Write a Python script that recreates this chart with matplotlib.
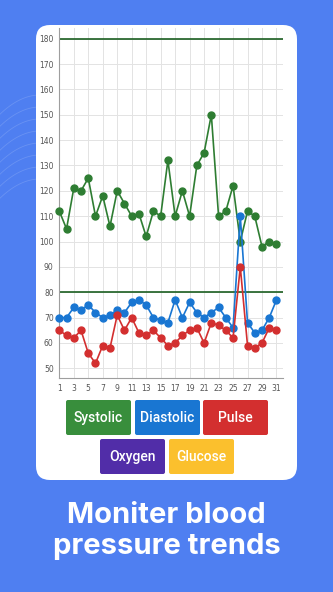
import numpy as np
import matplotlib
matplotlib.use('Agg')
import matplotlib.pyplot as plt
from matplotlib.patches import FancyBboxPatch

days = list(range(1, 32))
systolic = [112, 105, 121, 120, 125, 110, 118, 106, 120, 115, 110, 111, 102, 112, 110, 132,
            110, 120, 110, 130, 135, 150, 110, 112, 122, 100, 112, 110, 98, 100, 99]
diastolic = [70, 70, 74, 73, 75, 72, 70, 71, 73, 72, 76, 77, 75, 70, 69, 68,
             77, 70, 76, 72, 70, 72, 74, 70, 66, 110, 68, 64, 65, 70, 77]
pulse = [65, 63, 62, 65, 56, 52, 59, 58, 71, 65, 70, 64, 63, 65, 62, 59,
         60, 63, 65, 66, 60, 68, 67, 65, 62, 90, 59, 58, 60, 66, 65]
limits = [180, 80]
buttons = ['Systolic', 'Diastolic', 'Pulse', 'Oxygen', 'Glucose']
button_colors = ['#388e3c', '#1976d2', '#d32f2f', '#512da8', '#fbc02d']
title = 'Moniter blood\npressure trends'

W, H = 333, 592
fig = plt.figure(figsize=(W / 100, H / 100), dpi=100)
fig.patch.set_facecolor('#4f7ff1')

# faint decorative curves in the background
bg = fig.add_axes([0, 0, 1, 1])
bg.set_xlim(0, W)
bg.set_ylim(H, 0)
bg.axis('off')
t = np.linspace(0, 40, 50)
for k in range(8):
    bg.plot(t, 95 + k * 12 + 0.012 * (t - 40) ** 2, color='white', alpha=0.15, lw=0.6)

# white card
bg.add_patch(FancyBboxPatch((36, 25), 261, 455, boxstyle='round,pad=0,rounding_size=14',
                            facecolor='white', edgecolor='none'))

# buttons
btn_pos = [(66, 400), (135, 400), (203, 400), (100, 439), (169, 439)]
for (bx, by), lab, col in zip(btn_pos, buttons, button_colors):
    bg.add_patch(FancyBboxPatch((bx, by), 65, 35, boxstyle='round,pad=0,rounding_size=2',
                                facecolor=col, edgecolor='none'))
    bg.text(bx + 32.5, by + 18, lab, color='white', ha='center', va='center',
            fontsize=10, family='Roboto', weight='medium')

bg.text(166.5, 531, title, color='white', ha='center', va='center', fontsize=21,
        family='Inter', weight='bold', linespacing=1.2)

# chart
ax = fig.add_axes([59.3 / W, 1 - 378 / H, (283 - 59.3) / W, (378 - 28) / H])
ax.set_facecolor('white')
ax.plot(days, systolic, color='#2e7d32', marker='o', ms=5, lw=1.2, zorder=3, clip_on=False)
ax.plot(days, diastolic, color='#1976d2', marker='o', ms=5, lw=1.2, zorder=3, clip_on=False)
ax.plot(days, pulse, color='#d32f2f', marker='o', ms=5, lw=1.2, zorder=3, clip_on=False)
for v in limits:
    ax.axhline(v, color='#1b5e20', lw=1.2, zorder=2)

ax.set_xlim(1, 31.9)
ax.set_ylim(46.2, 184.2)
ax.set_xticks(range(1, 32, 2))
ax.set_yticks(range(50, 181, 10))
ax.grid(True, color='#e3e3e3', lw=0.7)
ax.set_axisbelow(True)
ax.tick_params(labelsize=5.5, colors='#555555', length=0, pad=4)
for s in ['top', 'right']:
    ax.spines[s].set_visible(False)
for s in ['left', 'bottom']:
    ax.spines[s].set_color('#9e9e9e')
    ax.spines[s].set_linewidth(0.8)

plt.savefig('out.png', dpi=100)
